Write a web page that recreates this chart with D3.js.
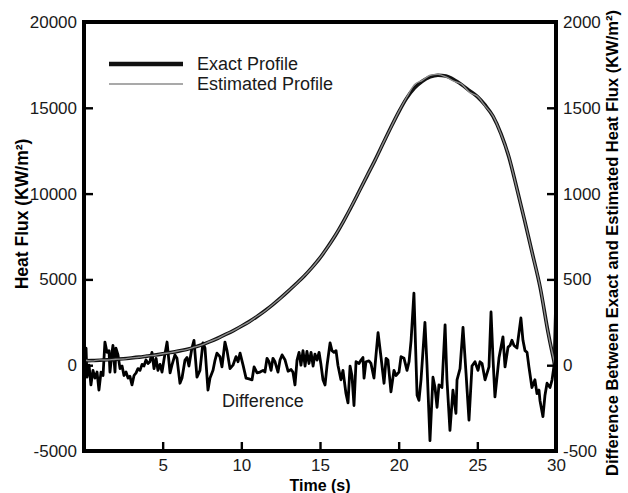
<!DOCTYPE html>
<html>
<head>
<meta charset="utf-8">
<script src="https://cdn.jsdelivr.net/npm/d3@7"></script>
<style>
  body { margin: 0; background: #fff; }
  text { font-family: "Liberation Sans", Arial, sans-serif; }
</style>
</head>
<body>
<div id="wrapper"></div>
<script>
// ---------- DATA -----------------------------------------------------
// exact heat flux profile (KW/m2)
const exactTime = [0, 0.5, 1, 1.5, 2, 2.5, 3, 3.5, 4, 4.5, 5, 5.5, 6, 6.5, 7, 7.5, 8, 8.5, 9, 9.5,
  10, 10.5, 11, 11.5, 12, 12.5, 13, 13.5, 14, 14.5, 15, 15.5, 16, 16.5, 17, 17.5, 18, 18.5, 19, 19.5,
  20, 20.5, 21, 21.5, 22, 22.5, 23, 23.5, 24, 24.5, 25, 25.5, 26, 26.5, 27, 27.5, 28, 28.5, 29, 29.5, 30];
const exactFlux = [250, 270, 290, 315, 340, 375, 420, 470, 530, 590, 660, 735, 820, 920, 1040, 1190, 1370, 1570, 1790, 2020,
  2270, 2540, 2840, 3170, 3530, 3920, 4330, 4760, 5200, 5700, 6250, 6900, 7600, 8400, 9250, 10150, 11050, 11950, 12900, 13850,
  14750, 15550, 16150, 16550, 16800, 16900, 16850, 16650, 16350, 16000, 15650, 15150, 14500, 13500, 12150, 10350, 8450, 6500, 4500, 1900, -300];
// estimated profile, same time steps
const estimatedFlux = [300, 250, 310, 300, 350, 360, 430, 460, 540, 580, 670, 730, 830, 910, 1050, 1180, 1380, 1560, 1800, 2010,
  2280, 2530, 2850, 3160, 3540, 3910, 4340, 4750, 5210, 5690, 6260, 6890, 7610, 8390, 9260, 10140, 11060, 11940, 12910, 13840,
  14760, 15600, 16350, 16600, 16900, 16950, 16800, 16550, 16380, 15900, 15680, 15100, 14520, 13480, 12170, 10330, 8470, 6480, 4520, 1880, -250];

// difference between exact and estimated (right axis)
const diffTime = [0.06, 0.13, 0.19, 0.32, 0.44, 0.57, 0.70, 0.83, 0.95, 1.08, 1.21, 1.33, 1.46, 1.59, 1.65, 1.78, 1.84, 1.97, 2.03, 2.16,
  2.29, 2.42, 2.54, 2.67, 2.80, 2.92, 3.05, 3.18, 3.31, 3.43, 3.56, 3.69, 3.81, 3.94, 4.07, 4.19, 4.32, 4.45, 4.58, 4.70,
  4.83, 4.96, 5.08, 5.28, 5.47, 5.59, 5.78, 5.91, 6.10, 6.23, 6.42, 6.55, 6.67, 6.86, 6.99, 7.18, 7.37, 7.56, 7.69, 7.88,
  8.01, 8.20, 8.33, 8.45, 8.64, 8.77, 8.96, 9.09, 9.28, 9.47, 9.66, 9.79, 9.92, 10.11, 10.30, 10.49, 10.68, 10.81, 11.00, 11.19,
  11.38, 11.50, 11.63, 11.76, 11.89, 12.01, 12.14, 12.33, 12.46, 12.59, 12.78, 12.97, 13.16, 13.28, 13.41, 13.54, 13.67, 13.79, 13.92, 14.05,
  14.17, 14.30, 14.43, 14.56, 14.68, 14.81, 14.94, 15.06, 15.19, 15.32, 15.45, 15.64, 15.76, 15.89, 16.02, 16.14, 16.33, 16.46, 16.65, 16.78,
  16.91, 17.03, 17.16, 17.29, 17.48, 17.61, 17.73, 17.80, 17.92, 18.11, 18.24, 18.43, 18.56, 18.69, 18.88, 19.07, 19.20, 19.32, 19.51, 19.70,
  19.83, 20.02, 20.15, 20.34, 20.53, 20.66, 20.79, 20.97, 21.17, 21.29, 21.42, 21.67, 21.80, 21.99, 22.18, 22.31, 22.44, 22.56, 22.75, 22.95,
  23.07, 23.26, 23.45, 23.64, 23.71, 23.90, 24.09, 24.28, 24.47, 24.66, 24.85, 25.04, 25.17, 25.30, 25.49, 25.74, 25.87, 26.00, 26.12, 26.38,
  26.63, 26.76, 26.95, 27.08, 27.20, 27.33, 27.52, 27.77, 27.90, 28.03, 28.16, 28.28, 28.47, 28.66, 28.79, 28.92, 28.98, 29.17, 29.30, 29.43,
  29.62, 29.75, 29.88, 30.00];
const diffValue = [30, 100, -70, 0, -115, -30, -75, -40, -145, -40, -60, 135, 75, 85, -40, 75, 115, -40, 100, 60,
  -20, -5, -60, -40, -75, -65, -115, -60, -45, -20, -30, 5, -5, 30, 10, 20, 75, -20, 40, -30,
  5, -40, 30, 135, -45, 0, 60, 40, -105, -75, 30, 45, -5, 100, 145, -70, -30, 130, 100, -145,
  -75, -30, 30, 70, 50, -10, 135, 85, -20, 0, 50, 20, 70, 0, -75, -80, -85, -10, -45, -40,
  -30, -40, 40, 20, -30, 40, 20, -40, 30, 60, 30, -35, -25, -40, -115, 30, 75, 0, 85, -5,
  80, 10, 75, -5, 65, 30, 75, 5, -85, -115, 0, 130, 85, 75, 85, 0, -85, -30, -165, -220,
  -5, -60, -235, 20, 10, 30, 45, -75, 20, 25, 10, -75, 60, 190, 45, -105, 40, 30, -155, -30,
  -60, -40, 50, 40, -30, 20, 145, 420, -175, -205, -85, 250, 0, -440, -70, -130, -245, -115, -130, 235,
  -85, -380, -145, -280, -85, -20, 220, -45, -320, -5, 20, -30, 20, 10, -85, -10, 310, 30, -185, 45,
  165, -10, 105, 115, 145, 115, 100, 275, 145, 85, 75, -10, -130, -85, -165, -145, -205, -300, -175, -105,
  -130, -85, 0, 440];

// tick labels
const xTicks = [5, 10, 15, 20, 25, 30];
const yLeftTicks = [-5000, 0, 5000, 10000, 15000, 20000];
const yRightTicks = [-500, 0, 500, 1000, 1500, 2000];

function drawChart() {

  // ---------- CREATE DIMENSIONS ----------------------------------------
  const dimensions = {
    width: 628,
    height: 493,
    margin: { top: 22, right: 72, bottom: 42, left: 84 },
  };
  dimensions.boundedWidth =
    dimensions.width - dimensions.margin.left - dimensions.margin.right;
  dimensions.boundedHeight =
    dimensions.height - dimensions.margin.top - dimensions.margin.bottom;

  const svg = d3
    .select("#wrapper")
    .append("svg")
    .attr("width", dimensions.width)
    .attr("height", dimensions.height);

  const bounds = svg
    .append("g")
    .attr("transform", `translate(${dimensions.margin.left},${dimensions.margin.top})`);

  // ---------- SCALES ----------------------------------------------------
  const xScale = d3.scaleLinear().domain([0, 30]).range([0, dimensions.boundedWidth]);
  const yLeft = d3.scaleLinear().domain([-5000, 20000]).range([dimensions.boundedHeight, 0]);
  const yRight = d3.scaleLinear().domain([-500, 2000]).range([dimensions.boundedHeight, 0]);

  // ---------- LINES -----------------------------------------------------
  const diffLine = d3.line()
    .x((d, i) => xScale(diffTime[i]))
    .y((d) => yRight(d));

  const fluxLine = d3.line()
    .x((d, i) => xScale(exactTime[i]))
    .y((d) => yLeft(d))
    .curve(d3.curveMonotoneX);

  bounds.append("path")
    .datum(diffValue)
    .attr("d", diffLine)
    .attr("fill", "none")
    .attr("stroke", "#000")
    .attr("stroke-width", 2.8)
    .attr("stroke-linejoin", "round");

  bounds.append("path")
    .datum(exactFlux)
    .attr("d", fluxLine)
    .attr("fill", "none")
    .attr("stroke", "#111")
    .attr("stroke-width", 3.6);

  bounds.append("path")
    .datum(estimatedFlux)
    .attr("d", fluxLine)
    .attr("fill", "none")
    .attr("stroke", "#8c8c8c")
    .attr("stroke-width", 1.4);

  // ---------- AXES (ticks point inward) ---------------------------------
  const styleAxis = (g) => {
    g.select(".domain").remove();
    g.selectAll(".tick line").attr("stroke", "#000").attr("stroke-width", 2.4);
    g.selectAll(".tick text")
      .attr("fill", "#1a1a1a")
      .style("font-size", "17px");
  };
  // plain hyphen for negative numbers, like the reference
  const plain = (d) => String(d);

  bounds.append("g")
    .attr("transform", `translate(0,${dimensions.boundedHeight})`)
    .call(d3.axisBottom(xScale).tickValues(xTicks).tickFormat(plain).tickSizeInner(-9).tickSizeOuter(0).tickPadding(8))
    .call(styleAxis);

  bounds.append("g")
    .call(d3.axisLeft(yLeft).tickValues(yLeftTicks).tickFormat(plain).tickSizeInner(-9).tickSizeOuter(0).tickPadding(7))
    .call(styleAxis);

  bounds.append("g")
    .attr("transform", `translate(${dimensions.boundedWidth},0)`)
    .call(d3.axisRight(yRight).tickValues(yRightTicks).tickFormat(plain).tickSizeInner(-9).tickSizeOuter(0).tickPadding(7))
    .call(styleAxis);

  // frame around the plot
  bounds.append("rect")
    .attr("width", dimensions.boundedWidth)
    .attr("height", dimensions.boundedHeight)
    .attr("fill", "none")
    .attr("stroke", "#000")
    .attr("stroke-width", 4);

  // ---------- AXIS TITLES ----------------------------------------------
  svg.append("text")
    .attr("x", dimensions.margin.left + dimensions.boundedWidth / 2)
    .attr("y", 491)
    .attr("text-anchor", "middle")
    .style("font-size", "16px")
    .style("font-weight", "bold")
    .text("Time (s)");

  svg.append("text")
    .attr("transform", "translate(28,214) rotate(-90)")
    .attr("text-anchor", "middle")
    .style("font-size", "17.5px")
    .style("font-weight", "bold")
    .text("Heat Flux (KW/m²)");

  svg.append("text")
    .attr("transform", "translate(618,243) rotate(-90)")
    .attr("text-anchor", "middle")
    .style("font-size", "16.5px")
    .style("font-weight", "bold")
    .text("Difference Between Exact and Estimated Heat Flux (KW/m²)");

  // ---------- LEGEND + LABEL --------------------------------------------
  const legend = [
    { name: "Exact Profile", color: "#111", width: 4.5 },
    { name: "Estimated Profile", color: "#8c8c8c", width: 1.5 },
  ];
  const legendGroup = svg.append("g").attr("transform", "translate(109,64)");
  legendGroup.selectAll("line")
    .data(legend)
    .join("line")
    .attr("x1", 0)
    .attr("x2", 74)
    .attr("y1", (d, i) => i * 20)
    .attr("y2", (d, i) => i * 20)
    .attr("stroke", (d) => d.color)
    .attr("stroke-width", (d) => d.width);
  legendGroup.selectAll("text")
    .data(legend)
    .join("text")
    .attr("x", 88)
    .attr("y", (d, i) => i * 20 + 6)
    .attr("fill", "#1a1a1a")
    .style("font-size", "18px")
    .text((d) => d.name);

  svg.append("text")
    .attr("x", 222)
    .attr("y", 407)
    .attr("fill", "#1a1a1a")
    .style("font-size", "18px")
    .text("Difference");
}

drawChart();
</script>
</body>
</html>
